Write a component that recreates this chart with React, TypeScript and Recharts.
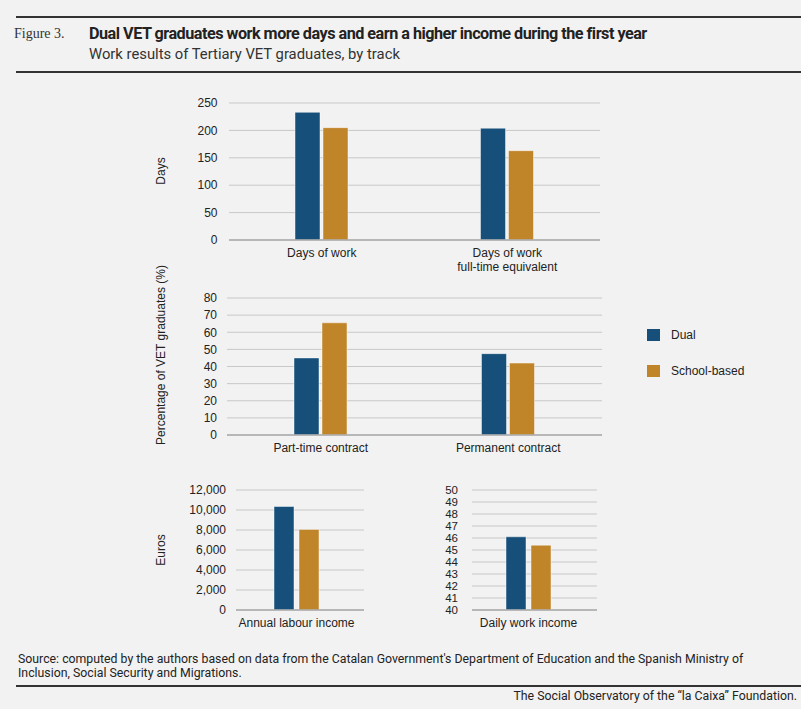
import { BarChart, Bar, XAxis, YAxis, CartesianGrid } from "recharts";

const FONT = "'Liberation Sans', Arial, sans-serif";
const TITLE_FONT = "Roboto, 'Liberation Sans', sans-serif";
const DUAL = "#164f79";
const SCHOOL = "#c08429";

const tracks = ["Dual", "School-based"];

const dayCategories = ["Days of work", "Days of work\nfull-time equivalent"];
const dayDual = [233, 204];
const daySchool = [205, 163];
const dayTicks = [0, 50, 100, 150, 200, 250];

const contractCategories = ["Part-time contract", "Permanent contract"];
const contractDual = [45, 47.5];
const contractSchool = [65.5, 42];
const contractTicks = [0, 10, 20, 30, 40, 50, 60, 70, 80];

const annualCategories = ["Annual labour income"];
const annualDual = [10350];
const annualSchool = [8060];
const annualTicks = [0, 2000, 4000, 6000, 8000, 10000, 12000];

const dailyCategories = ["Daily work income"];
const dailyDual = [46.1];
const dailySchool = [45.4];
const dailyTicks = [40, 41, 42, 43, 44, 45, 46, 47, 48, 49, 50];

function rows(categories: string[], dual: number[], school: number[]) {
  return categories.map((name, i) => ({ name, dual: dual[i], school: school[i] }));
}

function CategoryTick({ x, y, payload }: any) {
  const lines = String(payload.value).split("\n");
  return (
    <text x={x} y={y} textAnchor="middle" fill="#222" fontSize={12} fontFamily={FONT}>
      {lines.map((l, i) => (
        <tspan key={i} x={x} dy={i === 0 ? "0.71em" : 14}>
          {l}
        </tspan>
      ))}
    </text>
  );
}

type PanelProps = {
  left: number;
  top: number;
  width: number;
  height: number;
  yWidth: number;
  right: number;
  xHeight: number;
  tickMargin: number;
  ticks: number[];
  data: any[];
  barSize: number;
  barGap: number;
  padRight?: number;
  tickSize?: number;
  fmt?: (v: number) => string;
};

function Panel(p: PanelProps) {
  return (
    <div style={{ position: "absolute", left: p.left, top: p.top }}>
      <BarChart
        width={p.width}
        height={p.height}
        data={p.data}
        margin={{ top: 10, right: p.right, left: 0, bottom: 0 }}
        barSize={p.barSize}
        barGap={p.barGap}
      >
        <CartesianGrid vertical={false} stroke="#c8c8c8" />
        <XAxis
          dataKey="name"
          height={p.xHeight}
          tickLine={false}
          axisLine={{ stroke: "#aaaaaa", strokeWidth: 1.5 }}
          tick={<CategoryTick />}
          interval={0}
          padding={{ left: 0, right: p.padRight ?? 0 }}
        />
        <YAxis
          width={p.yWidth}
          domain={[p.ticks[0], p.ticks[p.ticks.length - 1]]}
          ticks={p.ticks}
          interval={0}
          tickLine={false}
          axisLine={false}
          tickMargin={p.tickMargin}
          tickFormatter={p.fmt}
          tick={{ fontSize: p.tickSize ?? 12, fill: "#222", fontFamily: FONT }}
        />
        <Bar dataKey="dual" name={tracks[0]} fill={DUAL} stroke="#ffffff" strokeOpacity={0.45} isAnimationActive={false} />
        <Bar dataKey="school" name={tracks[1]} fill={SCHOOL} stroke="#ffffff" strokeOpacity={0.45} isAnimationActive={false} />
      </BarChart>
    </div>
  );
}

function AxisTitle({ text, x, y }: { text: string; x: number; y: number }) {
  return (
    <div
      style={{
        position: "absolute",
        left: x,
        top: y,
        transform: "translate(-50%, -50%) rotate(-90deg)",
        whiteSpace: "nowrap",
        fontSize: 12,
        fontFamily: FONT,
        color: "#222",
      }}
    >
      {text}
    </div>
  );
}

export default function App() {
  const rule = (top: number) => (
    <div style={{ position: "absolute", left: 16, top, width: 785, height: 2, background: "#333" }} />
  );
  return (
    <div style={{ position: "absolute", left: 0, top: 0, width: 801, height: 709, background: "#f2f2f2", overflow: "hidden" }}>
      {rule(16)}
      <div style={{ position: "absolute", left: 14, top: 26, fontFamily: "'Liberation Serif', serif", fontSize: 14, color: "#333" }}>
        Figure 3.
      </div>
      <div style={{ position: "absolute", left: 89, top: 24, fontFamily: TITLE_FONT, fontWeight: 700, fontSize: 16.2, letterSpacing: -0.5, color: "#222", whiteSpace: "nowrap" }}>
        Dual VET graduates work more days and earn a higher income during the first year
      </div>
      <div style={{ position: "absolute", left: 89, top: 45, fontFamily: TITLE_FONT, fontSize: 14.8, color: "#333", whiteSpace: "nowrap" }}>
        Work results of Tertiary VET graduates, by track
      </div>
      {rule(71)}

      <Panel left={140} top={93} width={470} height={182} yWidth={89} right={10} xHeight={35} tickMargin={5.5}
        ticks={dayTicks} data={rows(dayCategories, dayDual, daySchool)} barSize={25} barGap={3} />
      <Panel left={140} top={288} width={470} height={182} yWidth={87} right={8} xHeight={35} tickMargin={4}
        ticks={contractTicks} data={rows(contractCategories, contractDual, contractSchool)} barSize={25} barGap={3} />
      <Panel left={140} top={480} width={230} height={160} yWidth={96} right={6} xHeight={30} tickMargin={4}
        ticks={annualTicks} data={rows(annualCategories, annualDual, annualSchool)} barSize={20} barGap={5} padRight={7}
        fmt={(v) => v.toLocaleString("en-US")} />
      <Panel left={380} top={480} width={223} height={160} yWidth={92} right={6} xHeight={30} tickMargin={8}
        ticks={dailyTicks} data={rows(dailyCategories, dailyDual, dailySchool)} barSize={20} barGap={5} padRight={12}
        tickSize={11.5} />

      <AxisTitle text="Days" x={161} y={171} />
      <AxisTitle text="Percentage of VET graduates (%)" x={161} y={355} />
      <AxisTitle text="Euros" x={161} y={550} />

      {tracks.map((t, i) => (
        <div key={t} style={{ position: "absolute", left: 647, top: 328 + i * 36, display: "flex", alignItems: "center", fontFamily: FONT, fontSize: 12, color: "#222" }}>
          <div style={{ width: 13, height: 12, background: i === 0 ? DUAL : SCHOOL, marginRight: 11 }} />
          <span>{t}</span>
        </div>
      ))}

      <div style={{ position: "absolute", left: 18, top: 652, width: 748, fontFamily: TITLE_FONT, fontSize: 12.3, lineHeight: "14px", color: "#222" }}>
        Source: computed by the authors based on data from the Catalan Government's Department of Education and the Spanish Ministry of Inclusion, Social Security and Migrations.
      </div>
      {rule(685)}
      <div style={{ position: "absolute", right: 4, top: 689, fontFamily: TITLE_FONT, fontSize: 12.3, color: "#222" }}>
        The Social Observatory of the “la Caixa” Foundation.
      </div>
    </div>
  );
}
